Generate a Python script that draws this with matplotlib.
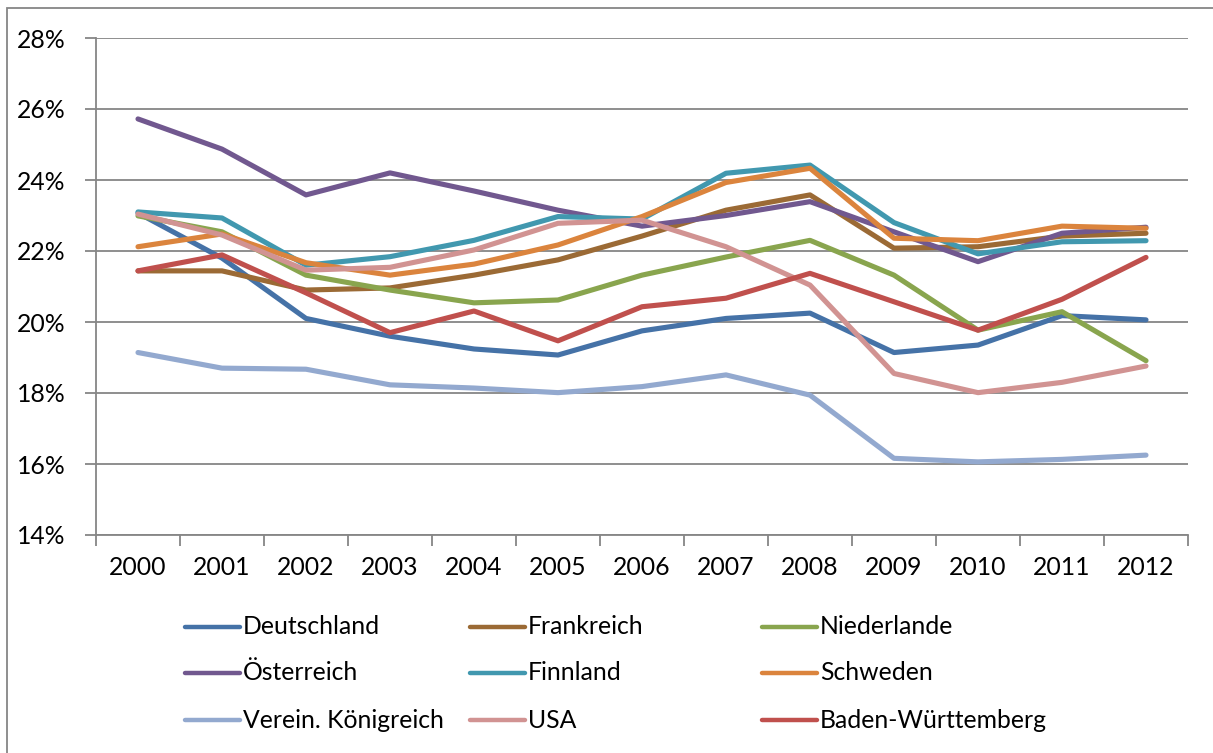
import matplotlib.pyplot as plt
from matplotlib.lines import Line2D
from matplotlib.patches import Rectangle
from matplotlib.ticker import FuncFormatter, FixedLocator

plt.rcParams["font.family"] = ["Lato", "DejaVu Sans"]

years = [str(y) for y in range(2000, 2013)]

deutschland = [23.07, 21.8, 20.1, 19.6, 19.24, 19.07, 19.75, 20.1, 20.25, 19.14, 19.35, 20.18, 20.06]
frankreich = [21.44, 21.44, 20.9, 20.96, 21.32, 21.75, 22.42, 23.15, 23.58, 22.08, 22.12, 22.42, 22.5]
niederlande = [22.99, 22.54, 21.32, 20.9, 20.54, 20.62, 21.32, 21.83, 22.3, 21.32, 19.77, 20.29, 18.91]
oesterreich = [25.72, 24.87, 23.58, 24.2, 23.69, 23.15, 22.7, 23.0, 23.39, 22.54, 21.7, 22.5, 22.67]
finnland = [23.1, 22.93, 21.6, 21.84, 22.3, 22.97, 22.9, 24.19, 24.42, 22.8, 21.92, 22.26, 22.29]
schweden = [22.12, 22.48, 21.67, 21.32, 21.63, 22.17, 22.97, 23.93, 24.33, 22.36, 22.29, 22.7, 22.64]
vk = [19.14, 18.7, 18.67, 18.23, 18.14, 18.01, 18.18, 18.51, 17.94, 16.16, 16.06, 16.13, 16.25]
usa = [23.04, 22.45, 21.46, 21.54, 22.03, 22.78, 22.87, 22.12, 21.04, 18.55, 18.01, 18.3, 18.76]
bw = [21.44, 21.89, 20.82, 19.7, 20.31, 19.47, 20.43, 20.67, 21.37, 20.57, 19.77, 20.64, 21.82]

labels = ["Deutschland", "Frankreich", "Niederlande",
          "Österreich", "Finnland", "Schweden",
          "Verein. Königreich", "USA", "Baden-Württemberg"]
series = [deutschland, frankreich, niederlande, oesterreich, finnland,
          schweden, vk, usa, bw]
colors = ["#4572A7", "#9B6A35", "#89A54E", "#71588F", "#4198AF",
          "#DB843D", "#93A9CF", "#D19392", "#C0504D"]

W, H = 1213, 753
FS = 17.8
fig = plt.figure(figsize=(W / 100, H / 100), dpi=100)
ax = fig.add_axes([96 / W, 1 - 535 / H, (1188 - 96) / W, (535 - 38) / H])

grid_c = "#868686"
x = list(range(len(years)))
for vals, c in zip(series, colors):
    ax.plot(x, vals, color=c, lw=3.7, solid_capstyle="round",
            solid_joinstyle="round")

ax.set_xlim(-0.5, len(years) - 0.5)
ax.set_ylim(14, 28)
ax.set_yticks(range(14, 29, 2))
ax.yaxis.set_major_formatter(FuncFormatter(lambda v, _: f"{v:.0f}%"))
ax.grid(axis="y", color=grid_c, lw=1.3)
ax.set_axisbelow(True)

ax.xaxis.set_major_locator(FixedLocator([i - 0.5 for i in range(len(years) + 1)]))
ax.xaxis.set_major_formatter(FuncFormatter(lambda v, _: ""))
ax.xaxis.set_minor_locator(FixedLocator(x))
ax.set_xticklabels(years, minor=True)
ax.tick_params(axis="x", which="major", length=8, color=grid_c, width=1.3)
ax.tick_params(axis="x", which="minor", length=0, pad=15, labelsize=FS)
ax.tick_params(axis="y", length=8, color=grid_c, width=1.3, pad=14,
               labelsize=FS)

for s in ["top", "right"]:
    ax.spines[s].set_visible(False)
for s in ["left", "bottom"]:
    ax.spines[s].set_color(grid_c)
    ax.spines[s].set_linewidth(1.3)

# outer chart border
fig.add_artist(Rectangle((7 / W, -0.1), 1.2, 1 - 8 / H + 0.1,
                         transform=fig.transFigure, fill=False,
                         edgecolor=grid_c, lw=1.3))

# legend, 3 x 3 grid filled row by row
col_x = [185, 470, 762]
row_y = [627, 673, 720]
for i, (lab, c) in enumerate(zip(labels, colors)):
    r, k = divmod(i, 3)
    x0 = col_x[k]
    y0 = 1 - row_y[r] / H
    fig.add_artist(Line2D([x0 / W, (x0 + 55) / W], [y0, y0], color=c,
                          lw=3.2, solid_capstyle="round",
                          transform=fig.transFigure))
    fig.text((x0 + 58) / W, y0, lab, fontsize=FS, va="center", ha="left")

fig.savefig("out.png", dpi=100)
